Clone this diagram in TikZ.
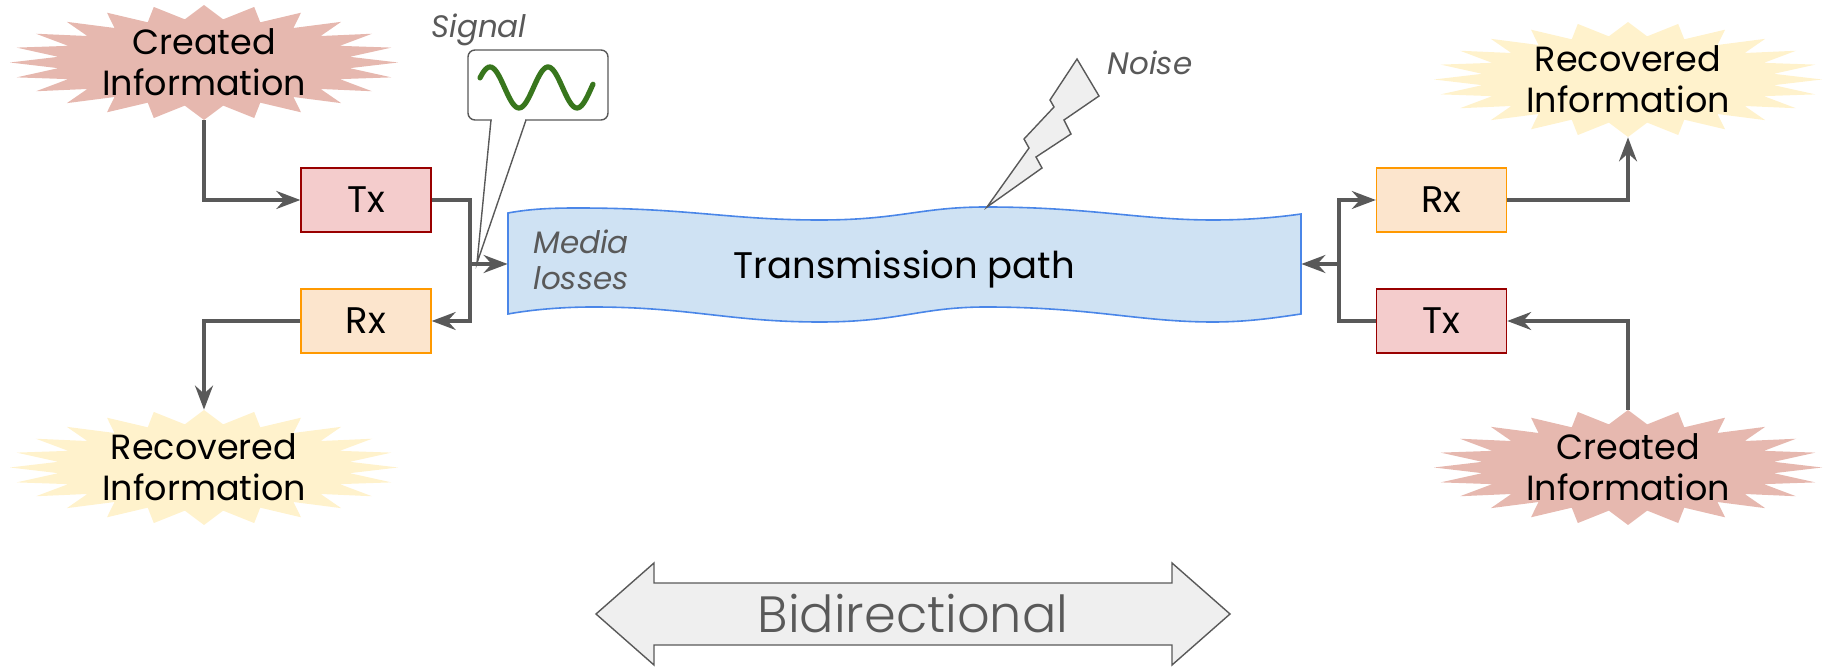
\documentclass[tikz,border=0pt]{standalone}
\usepackage{fontspec}
\setmainfont{Poppins}
\newfontfamily\lightfont{Poppins Light}
\usetikzlibrary{arrows.meta,calc}
\definecolor{lineg}{HTML}{595959}
\definecolor{createdc}{HTML}{E6B8AF}
\definecolor{recovc}{HTML}{FFF2CC}
\definecolor{txfill}{HTML}{F4CCCC}
\definecolor{txdraw}{HTML}{990000}
\definecolor{rxfill}{HTML}{FCE5CD}
\definecolor{rxdraw}{HTML}{FF9900}
\definecolor{pathfill}{HTML}{CFE2F3}
\definecolor{pathdraw}{HTML}{4A86E8}
\definecolor{lightg}{HTML}{EFEFEF}
\definecolor{sigc}{HTML}{38761D}
\newcommand{\mainfs}{\fontsize{17.5pt}{20.5pt}\selectfont}
\newcommand{\boxfs}{\fontsize{18.5pt}{21pt}\selectfont}
\newcommand{\burstshape}[2]{%
  \fill[#2] ($(#1)+(194,0)$) \foreach \i in {0,...,23} { -- ($(#1)+({147*cos(\i*15+7.5)},{43.5*sin(\i*15+7.5)})$) -- ($(#1)+({194*cos(\i*15+15)},{57.5*sin(\i*15+15)})$) } -- cycle;}
\tikzset{
  conn/.style={draw=lineg, line width=1.6pt},
  arr/.style={conn, -{Stealth[length=12pt,width=9pt,inset=4pt]}},
  txbox/.style={draw=txdraw, fill=txfill, line width=0.7pt, minimum width=65pt, minimum height=32pt, inner sep=0pt, font=\boxfs},
  rxbox/.style={txbox, draw=rxdraw, fill=rxfill},
  burstlbl/.style={minimum width=194pt, minimum height=57.5pt, inner sep=0pt, align=center, font=\mainfs},
  lbl/.style={text=lineg, font=\fontsize{15.5pt}{18pt}\selectfont\itshape, inner sep=0pt},
  thin/.style={draw=lineg, line width=0.7pt}
}
\begin{document}
\begin{tikzpicture}[x=0.5pt,y=-0.5pt]
\useasboundingbox (0,0) rectangle (1825,667);
% burst label nodes
\node[burstlbl] (ciL) at (204,62.5) {Created\\Information};
\node[burstlbl] (riL) at (204,467.5) {Recovered\\Information};
\node[burstlbl] (riR) at (1628,79.5) {Recovered\\Information};
\node[burstlbl] (ciR) at (1628,467.5) {Created\\Information};
% starbursts drawn then labels redrawn on top
\burstshape{ciL}{createdc}
\burstshape{riL}{recovc}
\burstshape{riR}{recovc}
\burstshape{ciR}{createdc}
\node[burstlbl] at (ciL) {Created\\Information};
\node[burstlbl] at (riL) {Recovered\\Information};
\node[burstlbl] at (riR) {Recovered\\Information};
\node[burstlbl] at (ciR) {Created\\Information};
% transmission path
\draw[fill=pathfill, draw=pathdraw, line width=0.8pt]
  (508,213) .. controls (530,209) and (550,208) .. (577,208)
  .. controls (690,208) and (730,220) .. (820,220)
  .. controls (900,220) and (920,207) .. (986,207)
  .. controls (1090,207) and (1140,220) .. (1213,220)
  .. controls (1250,220) and (1280,217) .. (1301,214)
  -- (1301,314)
  .. controls (1280,317) and (1250,322) .. (1213,322)
  .. controls (1140,322) and (1090,307) .. (986,307)
  .. controls (920,307) and (900,322) .. (820,322)
  .. controls (730,322) and (690,307) .. (593,307)
  .. controls (560,307) and (530,310) .. (508,314) -- cycle;
\node[minimum width=396.5pt, minimum height=50pt, inner sep=0pt] (tpath) at (904.5,264) {};
\node[font=\boxfs, inner sep=0pt] (tpathlbl) at (904.5,269) {Transmission path};
\node[lbl, align=left, anchor=west] (media) at (533,260) {Media\\losses};
% noise
\draw[thin, fill=lightg] (987,207) -- (1029,148) -- (1024,139) -- (1054,107) -- (1050,100) -- (1077,59) -- (1099,96) -- (1064,120) -- (1071,134) -- (1036,157) -- (1042,168) -- cycle;
\node[lbl] (noise) at (1150,63) {Noise};
% signal callout
\coordinate (sigtip) at (477,263);
\draw[thin, fill=white, rounded corners=3.5pt] (468,50) rectangle (608,120);
\fill[white] (492,117) rectangle (525,123);
\draw[thin] (491,120) -- (sigtip) -- (526,120);
\draw[sigc, line width=2.6pt, line cap=round] plot[domain=480:593, samples=80, smooth] (\x, {87.5-20.5*cos(6.2069*(\x-490))});
\node[lbl] (signal) at (479,30) {Signal};
% boxes
\node[txbox] (txL) at (366,200) {Tx};
\node[rxbox] (rxL) at (366,321) {Rx};
\node[rxbox] (rxR) at (1441.5,200) {Rx};
\node[txbox] (txR) at (1441.5,321) {Tx};
% connectors left
\coordinate (jL) at (470,264);
\draw[arr] (ciL.south) |- (txL.west);
\draw[conn] (txL.east) -| (jL);
\draw[arr] (jL) -- (tpath.west);
\draw[arr] (jL) |- (rxL.east);
\draw[arr] (rxL.west) -| (riL.north);
% connectors right
\coordinate (jR) at (1339,264);
\draw[arr] (jR) -- (tpath.east);
\draw[arr] (jR) |- (rxR.west);
\draw[conn] (txR.west) -| (jR);
\draw[arr] (rxR.east) -| (riR.south);
\draw[arr] (ciR.north) |- (txR.east);
% bidirectional arrow
\draw[thin, fill=lightg] (596,614) -- (654,563) -- (654,583) -- (1172,583) -- (1172,563) -- (1230,614) -- (1172,665) -- (1172,645) -- (654,645) -- (654,665) -- cycle;
\node[text=lineg, font=\lightfont\fontsize{25.5pt}{30pt}\selectfont, inner sep=0pt] (bidir) at (913,614) {Bidirectional};
\end{tikzpicture}
\end{document}
